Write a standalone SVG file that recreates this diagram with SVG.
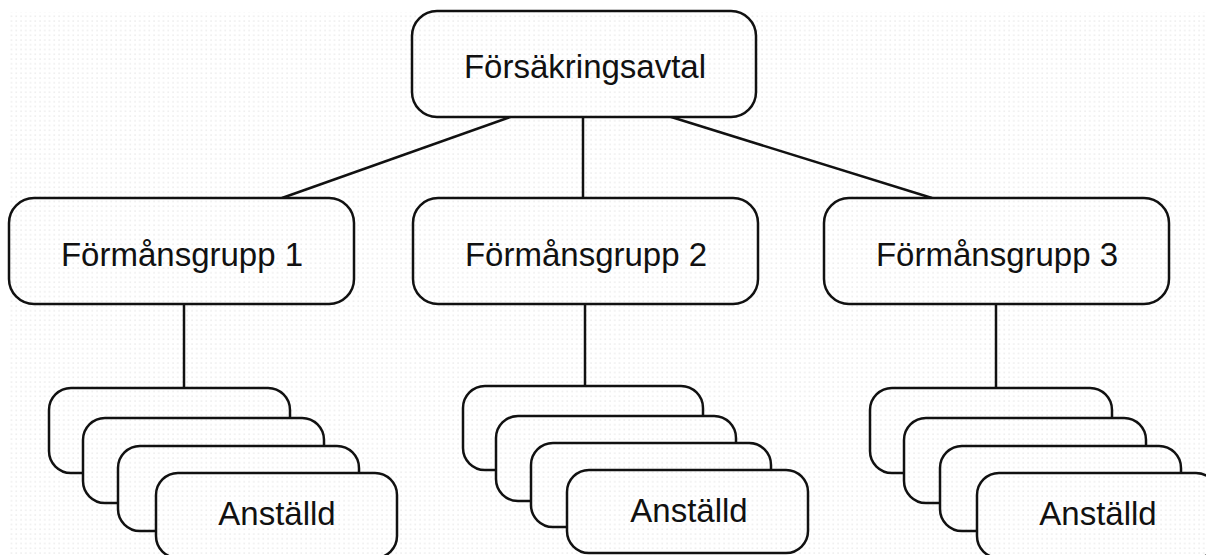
<svg xmlns="http://www.w3.org/2000/svg" width="1206" height="555" viewBox="0 0 1206 555">
<defs>
<pattern id="dots" x="0" y="0" width="4.75" height="4.75" patternUnits="userSpaceOnUse">
<rect width="4.75" height="4.75" fill="#ffffff"/>
<rect x="1.5" y="1.5" width="1" height="1" fill="#d4d4d4"/>
</pattern>
</defs>
<style>
.node rect{fill:url(#dots);stroke:#111;stroke-width:2.5}
.node text{font-family:"Liberation Sans",Arial,sans-serif;font-size:33px;fill:#111;text-anchor:middle}
.conn line{stroke:#111;stroke-width:2.5}
</style>
<rect width="1206" height="555" fill="#ffffff"/>
<rect x="8" y="12" width="1198" height="543" fill="url(#dots)"/>
<g class="conn" id="connectors">
<line x1="513" y1="116" x2="282" y2="198"/>
<line x1="583" y1="116" x2="583" y2="198"/>
<line x1="668" y1="116" x2="932" y2="198"/>
<line x1="184" y1="304" x2="184" y2="388"/>
<line x1="585" y1="304" x2="585" y2="386"/>
<line x1="996" y1="304" x2="996" y2="388"/>
</g>
<g class="node" id="n-avtal">
<rect x="412" y="11" width="344" height="106" rx="25"/>
<text x="585" y="78">Försäkringsavtal</text>
</g>
<g class="node" id="n-grupp1">
<rect x="9" y="198" width="345" height="106" rx="25"/>
<text x="182" y="266">Förmånsgrupp 1</text>
</g>
<g class="node" id="n-grupp2">
<rect x="413" y="198" width="345" height="106" rx="25"/>
<text x="586" y="266">Förmånsgrupp 2</text>
</g>
<g class="node" id="n-grupp3">
<rect x="824" y="198" width="345" height="106" rx="25"/>
<text x="997" y="266">Förmånsgrupp 3</text>
</g>
<g class="node" id="n-anstalld1">
<rect x="49" y="388" width="241" height="85" rx="22"/>
<rect x="83" y="418" width="241" height="85" rx="22"/>
<rect x="118" y="446" width="241" height="85" rx="22"/>
<rect x="156" y="473" width="241" height="85" rx="22"/>
<text x="277" y="525">Anställd</text>
</g>
<g class="node" id="n-anstalld2">
<rect x="463" y="386" width="240" height="84" rx="22"/>
<rect x="496" y="416" width="240" height="85" rx="22"/>
<rect x="531" y="443" width="240" height="84" rx="22"/>
<rect x="567" y="470" width="241" height="83" rx="22"/>
<text x="689" y="522">Anställd</text>
</g>
<g class="node" id="n-anstalld3">
<rect x="870" y="388" width="242" height="85" rx="22"/>
<rect x="904" y="418" width="242" height="85" rx="22"/>
<rect x="940" y="446" width="241" height="85" rx="22"/>
<rect x="977" y="473" width="241" height="85" rx="22"/>
<text x="1098" y="525">Anställd</text>
</g>
</svg>
